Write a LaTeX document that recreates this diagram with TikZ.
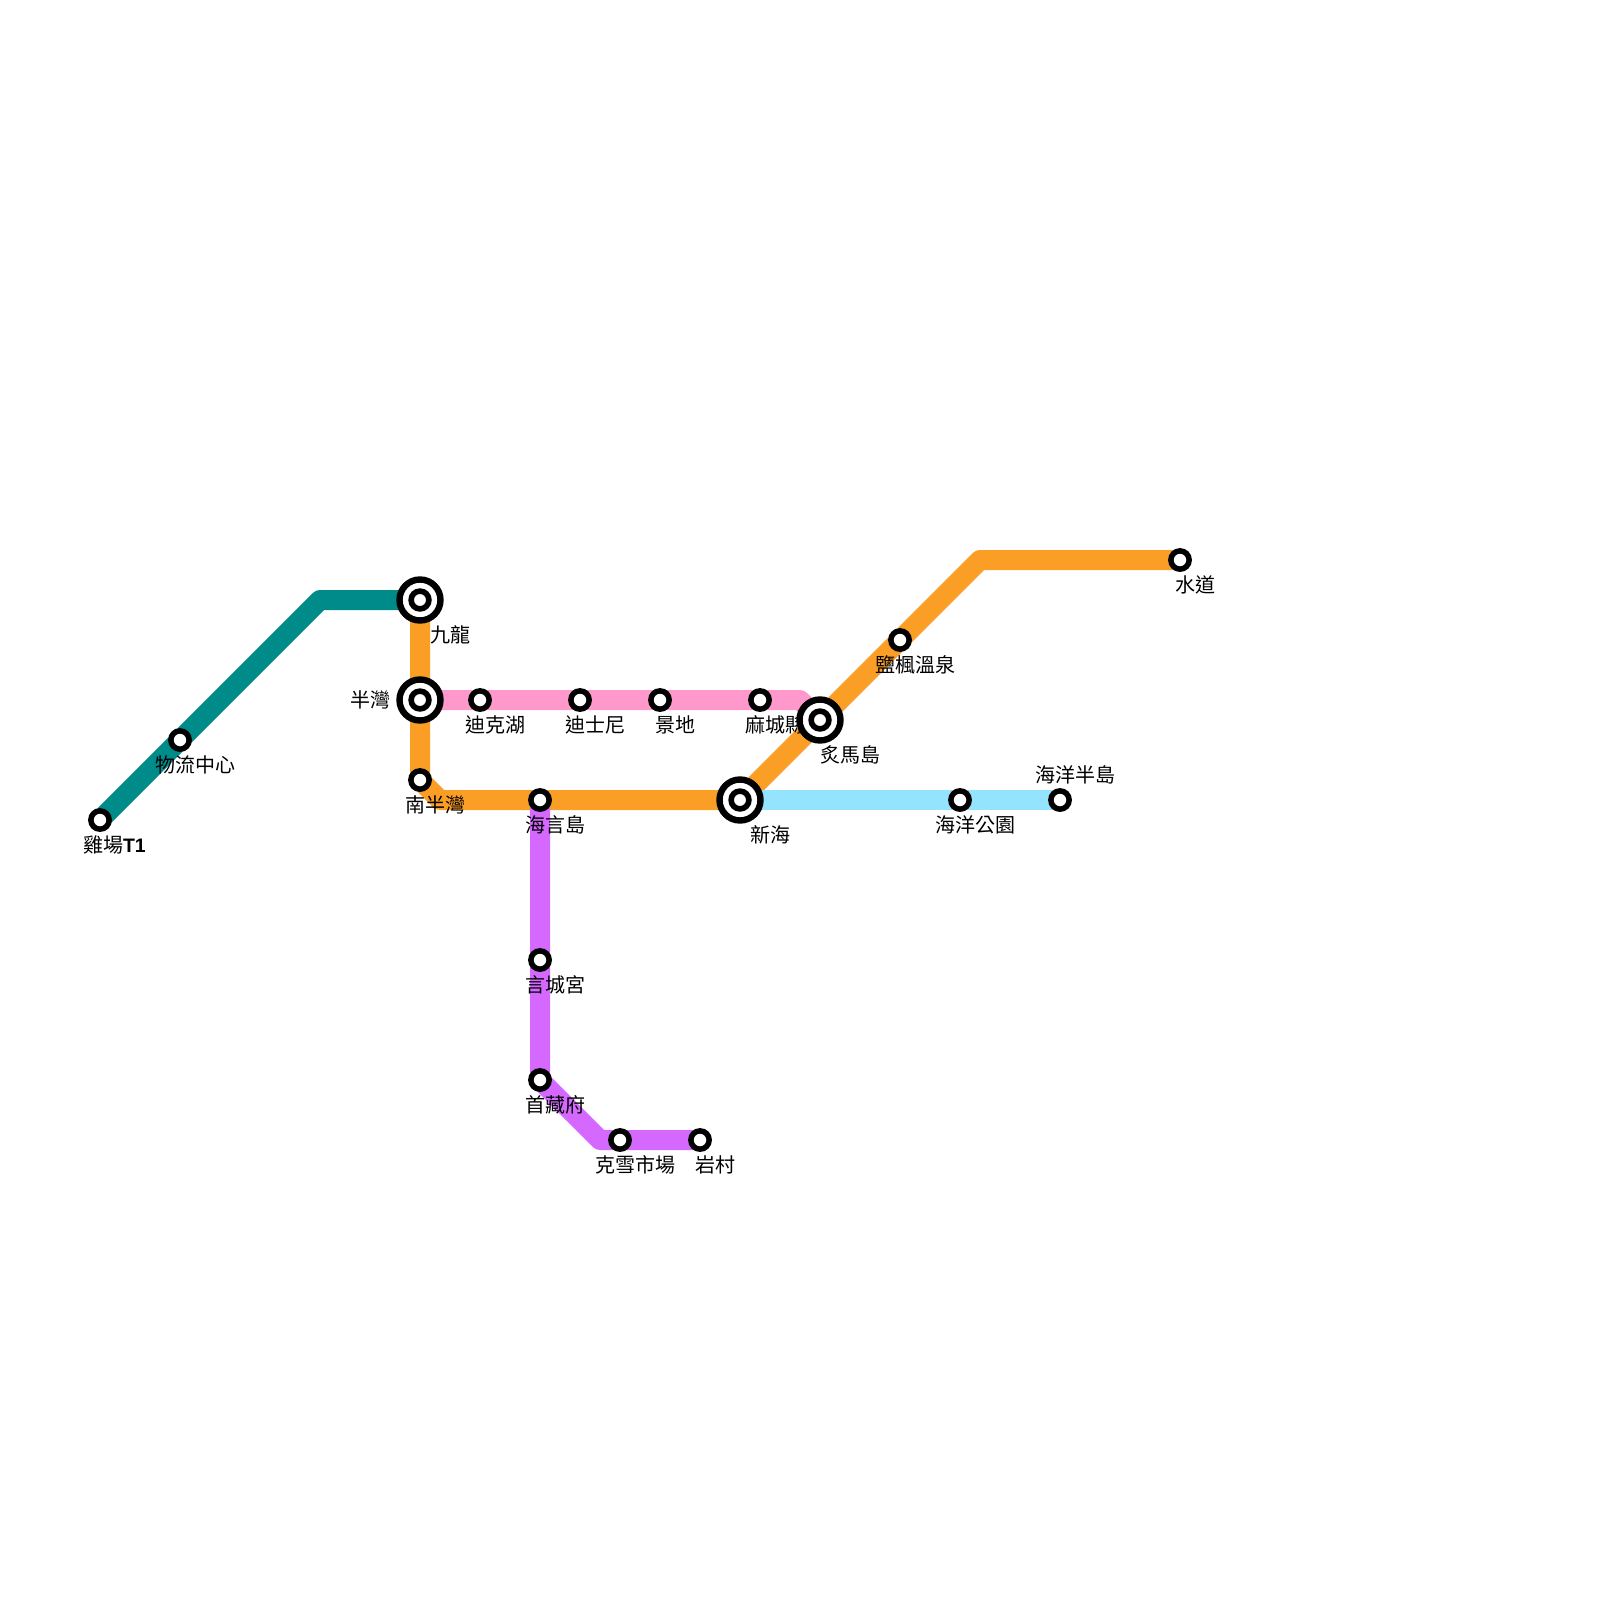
\documentclass[tikz,border=0pt]{standalone}
\usepackage{fontspec}
\setmainfont{Liberation Sans}
\newfontfamily\cjk{Noto Sans CJK TC}[Scale=1]
\definecolor{teal}{HTML}{008B8B}
\definecolor{orangeline}{HTML}{FA9E25}
\definecolor{pinkline}{HTML}{FF99CC}
\definecolor{purpleline}{HTML}{D569FF}
\definecolor{blueline}{HTML}{94E3FF}
\tikzset{
  metro/.style={line width=20pt,line join=round},
  stn/.style={circle,draw=black,fill=white,line width=5.5pt,minimum size=18.3pt,inner sep=0pt,outer sep=0pt},
  hubouter/.style={circle,draw=black,fill=white,line width=6.4pt,minimum size=41pt,inner sep=0pt,outer sep=0pt},
  hubinner/.style={circle,draw=black,fill=white,line width=5.6pt,minimum size=17.8pt,inner sep=0pt,outer sep=0pt},
  lbl/.style={inner sep=0pt,outer sep=0pt,yshift=-0.5pt,font=\fontsize{20pt}{20pt}\selectfont\cjk}
}
\begin{document}
\begin{tikzpicture}[x=1pt,y=-1pt]
\useasboundingbox (0,0) rectangle (1600,1600);
\fill[white] (0,0) rectangle (1600,1600);
% coordinates
\coordinate (a1) at (100,820);
\coordinate (a2) at (180,740);
\coordinate (ab) at (320,600);
\coordinate (k) at (420,600);
\coordinate (h) at (420,700);
\coordinate (s) at (420,780);
\coordinate (sb) at (440,800);
\coordinate (y) at (540,800);
\coordinate (n) at (740,800);
\coordinate (z) at (820,720);
\coordinate (e) at (900,640);
\coordinate (eb) at (980,560);
\coordinate (w) at (1180,560);
\coordinate (d1) at (480,700);
\coordinate (d2) at (580,700);
\coordinate (d3) at (660,700);
\coordinate (d4) at (760,700);
\coordinate (db) at (800,700);
\coordinate (o1) at (960,800);
\coordinate (o2) at (1060,800);
\coordinate (p1) at (540,960);
\coordinate (p2) at (540,1080);
\coordinate (pb) at (600,1140);
\coordinate (p3) at (620,1140);
\coordinate (p4) at (700,1140);
% lines
\draw[metro,draw=teal] (a1) -- (a2) -- (ab) -- (k);
\draw[metro,draw=orangeline] (k) -- (h) -- (s) -- (sb) -- (y) -- (n) -- (z) -- (e) -- (eb) -- (w);
\draw[metro,draw=pinkline] (h) -- (d1) -- (d2) -- (d3) -- (d4) -- (db) -- (z);
\draw[metro,draw=blueline] (n) -- (o1) -- (o2);
\draw[metro,draw=purpleline] (y) -- (p1) -- (p2) -- (pb) -- (p3) -- (p4);
% labels
\node[lbl,anchor=west] (l1) at (83,844) {雞場{\fontsize{19.5pt}{20pt}\selectfont\rmfamily\bfseries T1}};
\node[lbl,anchor=west] (l2) at (155,764) {物流中心};
\node[lbl,anchor=west] (l3) at (430,634) {九龍};
\node[lbl,anchor=east] (l4) at (390.5,699) {半灣};
\node[lbl,anchor=west] (l5) at (405,804) {南半灣};
\node[lbl,anchor=west] (l6) at (525,824) {海言島};
\node[lbl,anchor=west] (l7) at (465,724) {迪克湖};
\node[lbl,anchor=west] (l8) at (565,724) {迪士尼};
\node[lbl,anchor=west] (l9) at (655,724) {景地};
\node[lbl,anchor=west] (l10) at (745,724) {麻城縣};
\node[lbl,anchor=west] (l11) at (820,754) {炙馬島};
\node[lbl,anchor=west] (l12) at (875,664) {鹽楓溫泉};
\node[lbl,anchor=west] (l13) at (1175,584) {水道};
\node[lbl,anchor=west] (l14) at (750,834) {新海};
\node[lbl,anchor=west] (l15) at (935,824) {海洋公園};
\node[lbl,anchor=west] (l16) at (1035,774) {海洋半島};
\node[lbl,anchor=west] (l17) at (525,984) {言城宮};
\node[lbl,anchor=west] (l18) at (525,1104) {首藏府};
\node[lbl,anchor=west] (l19) at (595,1164) {克雪市場};
\node[lbl,anchor=west] (l20) at (695,1164) {岩村};
% stations
\foreach \c/\m in {a1/sa,a2/sb,s/sc,y/sd,d1/se,d2/sf,d3/sg,d4/sh,e/si,w/sj,o1/sk,o2/sl,p1/sm,p2/sn,p3/so,p4/sp}
  \node[stn] (\m) at (\c) {};
\foreach \c/\m in {k/ha,h/hb,z/hc,n/hd}{
  \node[hubouter] (\m) at (\c) {};
  \node[hubinner] (\m i) at (\c) {};
}
\end{tikzpicture}
\end{document}
